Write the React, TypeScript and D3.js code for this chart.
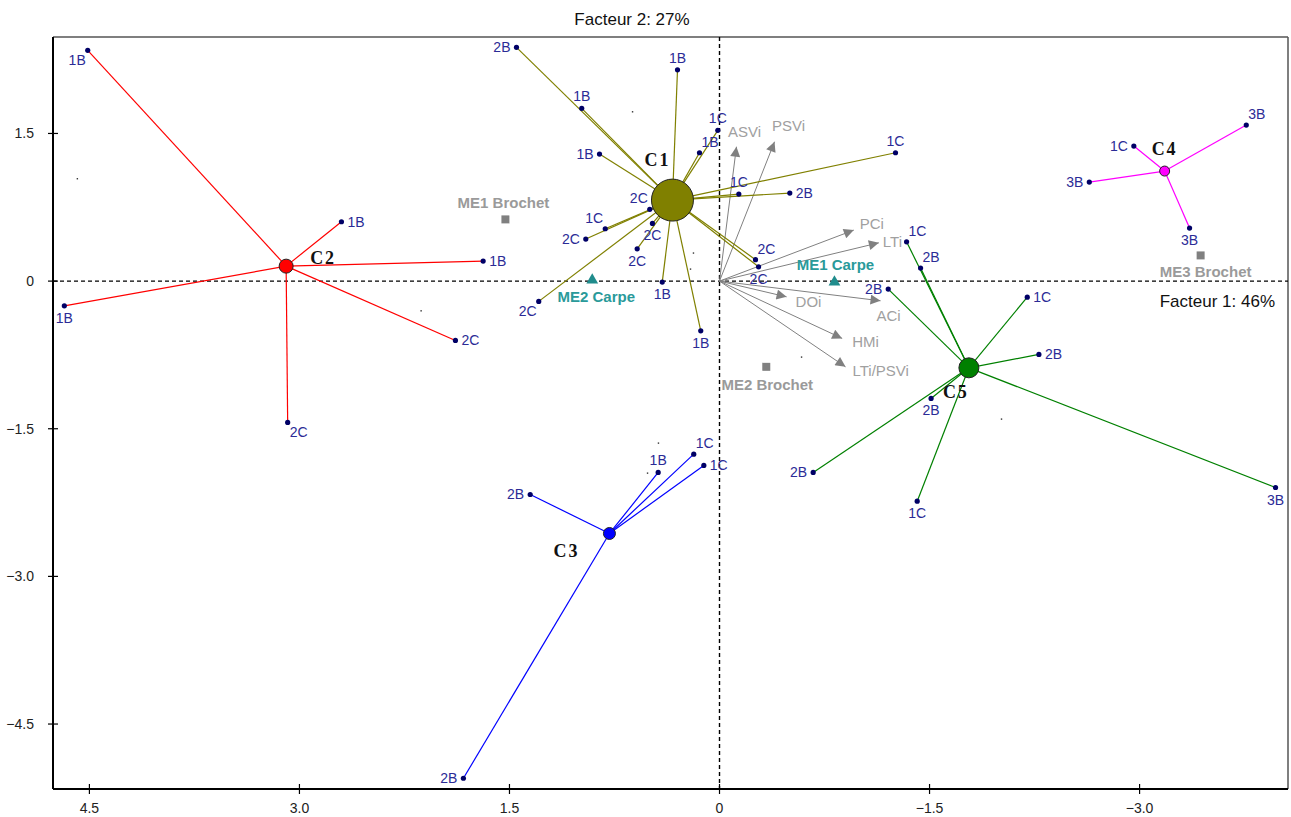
import React from "react";
import * as d3 from "d3";

// ---------- DATA ----------
const clusterNames = ["C1", "C2", "C3", "C4", "C5"];
const clusterF1 = [0.336, 3.095, 0.786, -3.179, -1.781];
const clusterF2 = [0.823, 0.152, -2.564, 1.118, -0.881];

const indLabels = [
  "2B","1B","1B","1B","1C","1B","1C","1C","2B","2C","2C","2C","1C","2C","2C","2C","2C","1B","1B",
  "1B","1B","1B","1B","2C","2C",
  "2B","1B","1C","1C","2B",
  "1C","3B","3B","3B",
  "1C","2B","2B","1C","2B","2B","2B","1C","3B",
];
const indCluster = [
  0,0,0,0,0,0,0,0,0,0,0,0,0,0,0,0,0,0,0,
  1,1,1,1,1,1,
  2,2,2,2,2,
  3,3,3,3,
  4,4,4,4,4,4,4,4,4,
];
const indF1 = [
  1.450,0.300,0.984,0.857,0.012,0.143,-1.257,-0.138,-0.502,-0.257,-0.279,0.498,0.816,0.955,0.479,0.588,1.291,0.409,0.134,
  4.512,2.700,1.688,4.679,3.084,1.886,
  1.352,0.438,0.184,0.112,1.829,
  -2.959,-3.762,-2.641,-3.357,
  -1.336,-1.436,-1.205,-2.198,-2.281,-1.511,-0.669,-1.412,-3.971,
];
const indF2 = [
  2.375,2.147,1.755,1.291,1.532,1.304,1.304,0.884,0.894,0.218,0.145,0.729,0.532,0.427,0.586,0.328,-0.206,-0.010,-0.505,
  2.345,0.603,0.203,-0.251,-1.436,-0.603,
  -2.168,-1.944,-1.758,-1.873,-5.051,
  1.372,1.585,1.006,0.539,
  0.399,0.132,-0.081,-0.163,-0.745,-1.192,-1.944,-2.236,-2.097,
];

const varNames = ["ASVi", "PSVi", "PCi", "LTi", "DOi", "ACi", "HMi", "LTi/PSVi"];
const varF1 = [-0.121, -0.393, -0.959, -1.138, -0.479, -1.15, -0.876, -0.9];
const varF2 = [1.365, 1.416, 0.518, 0.389, -0.16, -0.2, -0.582, -0.871];

const suppNames = ["ME1 Brochet", "ME2 Brochet", "ME3 Brochet", "ME1 Carpe", "ME2 Carpe"];
const suppKind = ["square", "square", "square", "triangle", "triangle"];
const suppF1 = [1.529, -0.334, -3.436, -0.821, 0.909];
const suppF2 = [0.627, -0.871, 0.261, -0.01, 0.01];

const hiddenF1 = [0.621, 4.586, 2.131, 0.186, 0.207, 0.436, 0.514, -0.586, -2.014, 0.293];
const hiddenF2 = [1.72, 1.04, -0.302, 0.285, 0.122, -1.646, -1.951, -0.772, -1.402, 0.955];

const xTicks = [4.5, 3.0, 1.5, 0, -1.5, -3.0];
const yTicks = [1.5, 0, -1.5, -3.0, -4.5];
const xTitle = "Facteur 1: 46%";
const yTitle = "Facteur 2: 27%";

// ---------- STYLE ----------
const W = 1291, H = 817;
const left = 53, right = 1288, top = 37, bottom = 789;
const clusterColors = ["#808000", "#ff0000", "#0000ff", "#ff00ff", "#008000"];
const clusterRadius = [21, 7, 6, 5, 10];
const clusterLabelOffset: [number, number][] = [[-15, -34], [37, -2], [-43, 24], [0, -16], [-13, 30]];
const indLabelPos = [
  "l","t","t","l","t","tr","t","t","r","tr","b","tl","tl","l","b","b","bl","b","b",
  "bl","r","r","b","br","r",
  "l","t","tr","r","l",
  "l","tr","l","b",
  "tr","tr","l","r","r","b","l","b","b",
];
const varLabelOffset: [number, number, string][] = [
  [8, -10, "middle"], [14, -11, "middle"], [6, -1, "start"], [4, 4, "start"],
  [9, 10, "start"], [8, 20, "middle"], [10, 9, "start"], [7, 9, "start"],
];
const suppLabelOffset: [number, number][] = [[-2, -11], [1, 23], [5, 22], [1, -12], [4, 22]];
const sans = "'Liberation Sans', Arial, sans-serif";
const labelColor = "#2b2b96";

function labelAttrs(pos: string, x: number, y: number) {
  switch (pos) {
    case "r": return { x: x + 6, y: y + 5, anchor: "start" };
    case "l": return { x: x - 6, y: y + 5, anchor: "end" };
    case "t": return { x: x, y: y - 7, anchor: "middle" };
    case "b": return { x: x, y: y + 17, anchor: "middle" };
    case "tr": return { x: x + 2, y: y - 6, anchor: "start" };
    case "tl": return { x: x - 2, y: y - 6, anchor: "end" };
    case "bl": return { x: x - 2, y: y + 15, anchor: "end" };
    case "br": return { x: x + 2, y: y + 15, anchor: "start" };
  }
  return { x, y, anchor: "start" };
}

export default function App() {
  const xs = d3.scaleLinear().domain([4.76, -4.06]).range([left, right]);
  const ys = d3.scaleLinear().domain([2.48, -5.16]).range([top, bottom]);
  const fmt = (v: number) => (v === 0 ? "0" : d3.format(".1f")(v));
  const x0 = xs(0), y0 = ys(0);
  const triangle = d3.symbol().type(d3.symbolTriangle).size(60)();
  const square = d3.symbol().type(d3.symbolSquare).size(64)();

  return (
    <svg width={W} height={H} style={{ position: "absolute", left: 0, top: 0, background: "#fff" }}>
      <defs>
        <marker id="arr" viewBox="0 0 10 10" refX="10" refY="5" markerWidth="12" markerHeight="10"
          markerUnits="userSpaceOnUse" orient="auto">
          <path d="M0,0 L10,5 L0,10 z" fill="#808080" />
        </marker>
      </defs>

      {/* frame */}
      <line x1={left} y1={top} x2={right} y2={top} stroke="#555" strokeWidth={1.5} />
      <line x1={right} y1={top} x2={right} y2={bottom} stroke="#555" strokeWidth={1.5} />
      <line x1={left} y1={top} x2={left} y2={bottom} stroke="#000" strokeWidth={2} />
      <line x1={left} y1={bottom} x2={right} y2={bottom} stroke="#000" strokeWidth={2} />

      {/* ticks */}
      {xTicks.map((t) => (
        <g key={"xt" + t}>
          <line x1={xs(t)} x2={xs(t)} y1={bottom - 5} y2={bottom + 5} stroke="#000" strokeWidth={1.2} />
          <text x={xs(t)} y={bottom + 24} textAnchor="middle" fontFamily={sans} fontSize={14} fill="#222">{fmt(t)}</text>
        </g>
      ))}
      {yTicks.map((t) => (
        <g key={"yt" + t}>
          <line x1={left - 5} x2={left + 5} y1={ys(t)} y2={ys(t)} stroke="#000" strokeWidth={1.2} />
          <text x={left - 19} y={ys(t) + 5} textAnchor="end" fontFamily={sans} fontSize={14} fill="#222">{fmt(t)}</text>
        </g>
      ))}

      {/* zero lines */}
      <line x1={x0} x2={x0} y1={top} y2={bottom} stroke="#000" strokeDasharray="4,3" strokeWidth={1.4} />
      <line x1={left} x2={right} y1={y0} y2={y0} stroke="#000" strokeDasharray="4,3" strokeWidth={1.4} />

      {/* titles */}
      <text x={632} y={25} textAnchor="middle" fontFamily={sans} fontSize={17} fill="#111">{yTitle}</text>
      <text x={1275} y={y0 + 26} textAnchor="end" fontFamily={sans} fontSize={17} fill="#111">{xTitle}</text>

      {/* hidden tiny points */}
      {hiddenF1.map((v, i) => (
        <rect key={"h" + i} x={xs(v) - 0.7} y={ys(hiddenF2[i]) - 0.7} width={1.4} height={1.4} fill="#333" />
      ))}

      {/* variable arrows */}
      {varNames.map((n, i) => (
        <g key={"v" + i}>
          <line x1={x0} y1={y0} x2={xs(varF1[i])} y2={ys(varF2[i])} stroke="#808080" strokeWidth={1} markerEnd="url(#arr)" />
          <text x={xs(varF1[i]) + varLabelOffset[i][0]} y={ys(varF2[i]) + varLabelOffset[i][1]}
            textAnchor={varLabelOffset[i][2]} fontFamily={sans} fontSize={15} fill="#a0a0a0">{n}</text>
        </g>
      ))}

      {/* supplementary */}
      {suppNames.map((n, i) => {
        const px = xs(suppF1[i]), py = ys(suppF2[i]);
        const isTri = suppKind[i] === "triangle";
        return (
          <g key={"s" + i}>
            <path d={isTri ? triangle! : square!} transform={`translate(${px},${py})`} fill={isTri ? "#208c8c" : "#808080"} />
            <text x={px + suppLabelOffset[i][0]} y={py + suppLabelOffset[i][1]} textAnchor="middle" fontFamily={sans}
              fontSize={15} fontWeight="bold" fill={isTri ? "#2a9a9a" : "#9a9a9a"}>{n}</text>
          </g>
        );
      })}

      {/* cluster links */}
      {indF1.map((v, i) => {
        const c = indCluster[i];
        return (
          <line key={"l" + i} x1={xs(clusterF1[c])} y1={ys(clusterF2[c])} x2={xs(v)} y2={ys(indF2[i])}
            stroke={clusterColors[c]} strokeWidth={1.2} />
        );
      })}

      {/* individuals */}
      {indF1.map((v, i) => {
        const px = xs(v), py = ys(indF2[i]);
        const la = labelAttrs(indLabelPos[i], px, py);
        return (
          <g key={"p" + i}>
            <circle cx={px} cy={py} r={2.6} fill="#000066" />
            <text x={la.x} y={la.y} textAnchor={la.anchor} fontFamily={sans} fontSize={14} fill={labelColor}>{indLabels[i]}</text>
          </g>
        );
      })}

      {/* cluster centers */}
      {clusterNames.map((n, i) => {
        const px = xs(clusterF1[i]), py = ys(clusterF2[i]);
        return (
          <g key={"c" + i}>
            <circle cx={px} cy={py} r={clusterRadius[i]} fill={clusterColors[i]} stroke="#222" strokeWidth={1} />
            <text x={px + clusterLabelOffset[i][0]} y={py + clusterLabelOffset[i][1]} textAnchor="middle"
              fontFamily="'Liberation Serif', 'DejaVu Serif', serif" fontWeight="bold" fontSize={18}
              letterSpacing={2} fill="#111">{n}</text>
          </g>
        );
      })}
    </svg>
  );
}
